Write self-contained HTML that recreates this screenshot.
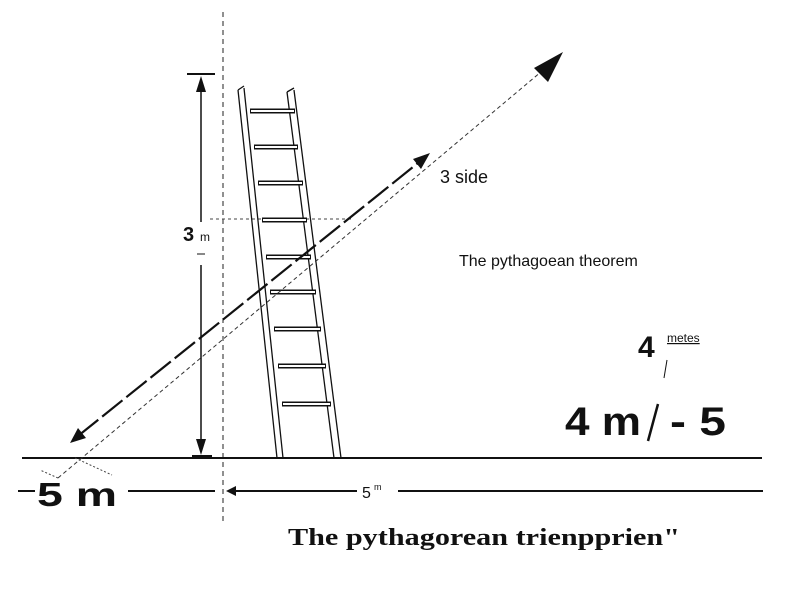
<!DOCTYPE html>
<html><head><style>
body{margin:0;width:800px;height:600px;background:#fff;overflow:hidden}
svg{display:block}
text{font-family:"Liberation Sans",sans-serif;fill:#111}
</style></head><body>
<svg width="800" height="600" viewBox="0 0 800 600" xmlns="http://www.w3.org/2000/svg">
<line x1="223" y1="12" x2="223" y2="525" stroke="#222" stroke-width="1" stroke-dasharray="5,4"/>
<line x1="210" y1="219" x2="352" y2="219" stroke="#444" stroke-width="1" stroke-dasharray="3,3"/>
<line x1="22" y1="458" x2="762" y2="458" stroke="#111" stroke-width="2"/>
<rect x="192" y="455" width="20" height="3" fill="#111"/>
<line x1="187" y1="74" x2="215" y2="74" stroke="#111" stroke-width="2"/>
<line x1="201" y1="80" x2="201" y2="222" stroke="#111" stroke-width="1.5"/>
<line x1="201" y1="265" x2="201" y2="452" stroke="#111" stroke-width="1.5"/>
<polygon points="201,76 196,92 206,92" fill="#111"/>
<polygon points="201,455 196,439 206,439" fill="#111"/>
<line x1="197" y1="254" x2="205" y2="254" stroke="#111" stroke-width="1"/>
<text x="183" y="241" font-size="20" font-weight="bold">3</text>
<text x="200" y="241" font-size="12">m</text>
<g stroke="#111" stroke-width="1.3" fill="none">
<path d="M238,90 L277,458 M244,88 L283,458"/>
<path d="M287,92 L334,458 M294,90 L341,458"/>
<path d="M238,90 L244,86 M287,92 L294,88"/>
</g>
<g stroke="#111" stroke-width="5">
<line x1="250" y1="111" x2="295" y2="111"/>
<line x1="254" y1="147" x2="298" y2="147"/>
<line x1="258" y1="183" x2="303" y2="183"/>
<line x1="262" y1="220" x2="307" y2="220"/>
<line x1="266" y1="257" x2="311" y2="257"/>
<line x1="270" y1="292" x2="316" y2="292"/>
<line x1="274" y1="329" x2="321" y2="329"/>
<line x1="278" y1="366" x2="326" y2="366"/>
<line x1="282" y1="404" x2="331" y2="404"/>
</g>
<g stroke="#fff" stroke-width="2">
<line x1="251" y1="111" x2="294" y2="111"/>
<line x1="255" y1="147" x2="297" y2="147"/>
<line x1="259" y1="183" x2="302" y2="183"/>
<line x1="263" y1="220" x2="306" y2="220"/>
<line x1="267" y1="257" x2="310" y2="257"/>
<line x1="271" y1="292" x2="315" y2="292"/>
<line x1="275" y1="329" x2="320" y2="329"/>
<line x1="279" y1="366" x2="325" y2="366"/>
<line x1="283" y1="404" x2="330" y2="404"/>
</g>
<line x1="58" y1="478" x2="548" y2="66" stroke="#333" stroke-width="1" stroke-dasharray="4,3"/>
<polygon points="563,52 534,68 548,82" fill="#111"/>
<line x1="58" y1="478" x2="40" y2="470" stroke="#444" stroke-dasharray="2,2"/>
<line x1="75" y1="458" x2="112" y2="475" stroke="#444" stroke-dasharray="2,2"/>
<line x1="78" y1="436" x2="418" y2="163" stroke="#111" stroke-width="2.2" stroke-dasharray="26,5"/>
<polygon points="430,153 413,159 421,169" fill="#111"/>
<polygon points="70,443 78,428 86,438" fill="#111"/>
<text x="440" y="183" font-size="18">3 side</text>
<text x="459" y="266" font-size="16">The pythagoean theorem</text>
<text x="638" y="357" font-size="30" font-weight="bold">4</text>
<text x="667" y="342" font-size="12" text-decoration="underline">metes</text>
<line x1="667" y1="360" x2="664" y2="378" stroke="#111" stroke-width="1"/>
<text x="565" y="435" font-size="40" font-weight="bold" textLength="76" lengthAdjust="spacingAndGlyphs">4 m</text>
<line x1="648" y1="441" x2="658" y2="404" stroke="#111" stroke-width="2.5"/>
<text x="670" y="435" font-size="40" font-weight="bold" textLength="56" lengthAdjust="spacingAndGlyphs">- 5</text>
<line x1="18" y1="491" x2="35" y2="491" stroke="#111" stroke-width="2"/>
<text x="37" y="506" font-size="33" font-weight="bold" textLength="80" lengthAdjust="spacingAndGlyphs">5 m</text>
<line x1="128" y1="491" x2="215" y2="491" stroke="#111" stroke-width="2"/>
<line x1="231" y1="491" x2="357" y2="491" stroke="#111" stroke-width="2"/>
<polygon points="226,491 236,486 236,496" fill="#111"/>
<text x="362" y="498" font-size="16">5</text>
<text x="374" y="490" font-size="9">m</text>
<line x1="398" y1="491" x2="763" y2="491" stroke="#111" stroke-width="2"/>
<text x="288" y="545" font-size="24" font-weight="bold" style="font-family:'Liberation Serif',serif" textLength="392" lengthAdjust="spacingAndGlyphs">The pythagorean trienpprien"</text>
</svg>
</body></html>
